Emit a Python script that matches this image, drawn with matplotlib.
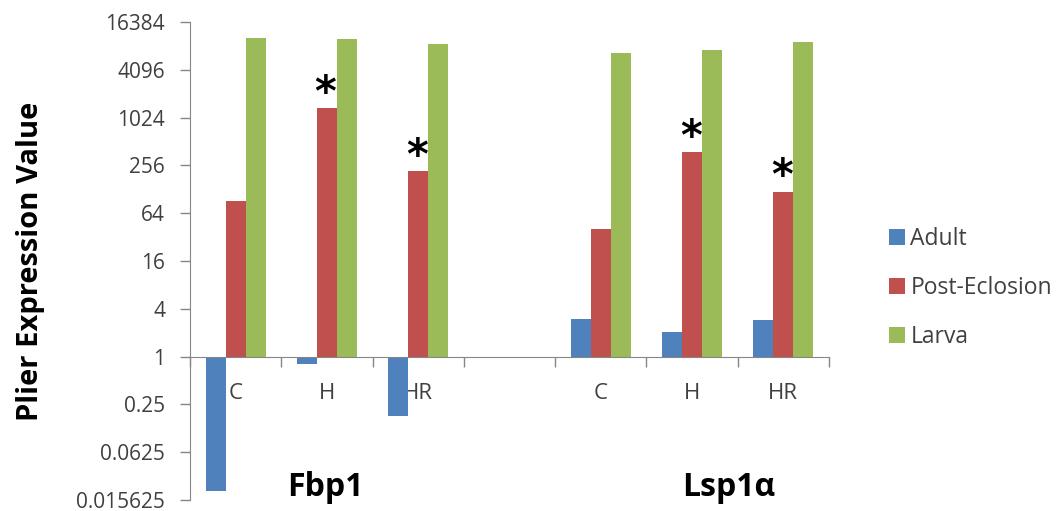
import numpy as np
import matplotlib.pyplot as plt
from matplotlib.ticker import FixedLocator, FixedFormatter

plt.rcParams['font.family'] = ['Open Sans', 'DejaVu Sans']

# categories (blank slot separates the two genes)
categories = ["C", "H", "HR", "", "C", "H", "HR"]
series = ["Adult", "Post-Eclosion", "Larva"]
adult = [0.020, 0.81, 0.18, np.nan, 3.0, 2.05, 2.9]
post_eclosion = [90, 1350, 215, np.nan, 40, 380, 120]
larva = [10300, 10000, 8700, np.nan, 6600, 7350, 9300]
starred = [False, True, True, False, False, True, True]  # significance on post-eclosion
y_ticks = [0.015625, 0.0625, 0.25, 1, 4, 16, 64, 256, 1024, 4096, 16384]
y_tick_labels = ["0.015625", "0.0625", "0.25", "1", "4", "16", "64", "256", "1024", "4096", "16384"]
gene_labels = ["Fbp1", "Lsp1\u03b1"]

colors = ["#4F81BD", "#C0504D", "#9BBB59"]
axis_col = "#868686"

fig = plt.figure(figsize=(10.6, 5.11), dpi=100)
ax = fig.add_axes([190/1060, 1-500/511, (829-190)/1060, (500-22)/511])

x = np.arange(len(categories))
w = 0.22
values = [adult, post_eclosion, larva]
bars = []
for i, (vals, c) in enumerate(zip(values, colors)):
    v = np.array(vals, dtype=float)
    b = ax.bar(x + (i-1)*w, v - 1, bottom=1, width=w, color=c, label=series[i], zorder=2)
    bars.append(b)

ax.set_yscale('log', base=2)
ax.set_ylim(2**-6, 2**14)
ax.set_xlim(-0.5, len(categories)-0.5)

ax.yaxis.set_major_locator(FixedLocator(y_ticks))
ax.yaxis.set_major_formatter(FixedFormatter(y_tick_labels))
ax.yaxis.set_minor_locator(FixedLocator([]))
ax.tick_params(axis='y', which='major', length=7, width=1, color=axis_col,
               labelsize=15, labelcolor="#404040", pad=11)

ax.set_xticks(x)
ax.set_xticklabels(categories)
ax.set_xticks(np.arange(len(categories)+1) - 0.5, minor=True)
ax.tick_params(axis='x', which='major', length=0, labelsize=16, labelcolor="#404040", pad=19)
ax.tick_params(axis='x', which='minor', length=7, width=1, color=axis_col, direction='out')

for s in ['top', 'right']:
    ax.spines[s].set_visible(False)
ax.spines['left'].set_color(axis_col)
ax.spines['bottom'].set_color(axis_col)
ax.spines['bottom'].set_position(('data', 1))
ax.spines['bottom'].set_zorder(3)

# asterisks above post-eclosion bars
for xi, v, s in zip(x, post_eclosion, starred):
    if s:
        ax.annotate("*", (xi, v), xytext=(-1, -5), textcoords='offset points',
                    ha='center', va='bottom', fontsize=30, fontweight='bold',
                    family='DejaVu Sans')

ax.set_ylabel("Plier Expression Value", fontsize=21, fontweight='bold')
ax.yaxis.set_label_coords((45-190)/639, 0.5)

fig.text(325/1060, 1-487/511, gene_labels[0], fontsize=23, fontweight='bold', ha='center', va='center')
fig.text(729/1060, 1-488/511, gene_labels[1], fontsize=23, fontweight='bold', ha='center', va='center')

fig.legend(handles=bars, labels=series, loc='center left', bbox_to_anchor=(868/1060, 1-288/511),
           frameon=False, fontsize=16.5, handlelength=0.7, handleheight=0.7, handletextpad=0.25,
           labelspacing=1.1, labelcolor="#404040")

fig.savefig("out.png", dpi=100)
